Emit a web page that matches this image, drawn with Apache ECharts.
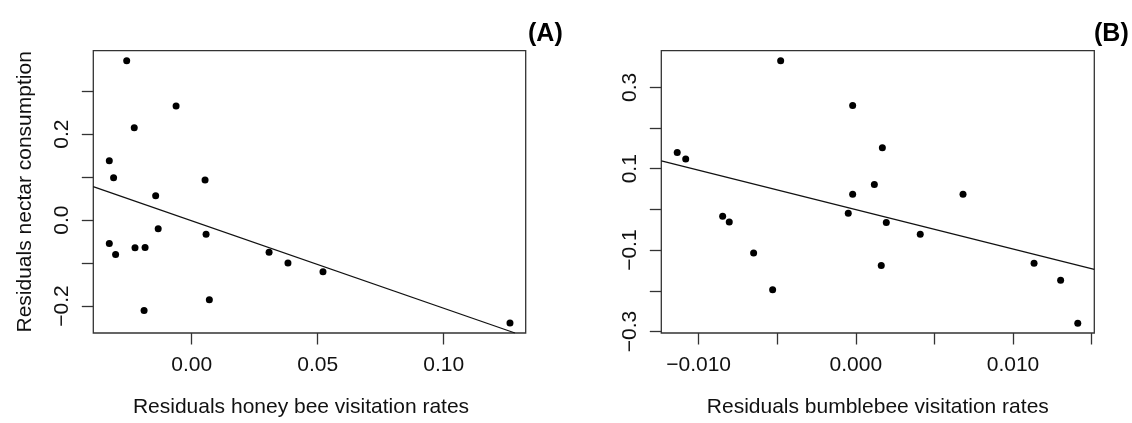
<!DOCTYPE html>
<html>
<head>
<meta charset="utf-8">
<script src="https://cdn.jsdelivr.net/npm/echarts@6/dist/echarts.min.js"></script>
<style>
html,body{margin:0;padding:0;background:#fff;}
#chart{width:1132px;height:423px;}
</style>
</head>
<body>
<div id="chart"></div>
<script>
// Panel A: honey bee
var honeyX = [-0.0258, -0.0062, -0.0228, -0.0327, -0.0310, 0.0053, -0.0143, -0.0133, 0.0057, -0.0327, -0.0302, -0.0225, -0.0185, 0.0070, -0.0189, 0.0307, 0.0382, 0.0521, 0.1263];
var nectarA = [0.3707, 0.2656, 0.2151, 0.1379, 0.0988, 0.0933, 0.0565, -0.0200, -0.0331, -0.0545, -0.0804, -0.0643, -0.0636, -0.1854, -0.2107, -0.0751, -0.0997, -0.1204, -0.2399];
var fitAx = [-0.0391, 0.1283];
var fitAy = [0.0781, -0.2629];
var xTicksA = [0.00, 0.05, 0.10];
var xLabelsA = [0.00, 0.05, 0.10];
var yTicksA = [-0.2, -0.1, 0.0, 0.1, 0.2, 0.3];
var yLabelsA = [-0.2, 0.0, 0.2];

// Panel B: bumblebee
var bumbleX = [-0.00478, -0.00020, -0.01136, -0.01082, -0.00020, -0.00847, -0.00048, 0.00169, 0.00118, 0.00682, -0.00805, -0.00650, -0.00529, 0.00194, 0.00410, 0.00162, 0.01134, 0.01303, 0.01412];
var nectarB = [0.3651, 0.2552, 0.1402, 0.1242, 0.0376, -0.0165, -0.0092, 0.1516, 0.0611, 0.0376, -0.0311, -0.1072, -0.1977, -0.0320, -0.0611, -0.1378, -0.1322, -0.1742, -0.2795];
var fitBx = [-0.01237, 0.01517];
var fitBy = [0.1194, -0.1475];
var xTicksB = [-0.010, -0.005, 0.000, 0.005, 0.010, 0.015];
var xLabelsB = [-0.010, 0.000, 0.010];
var yTicksB = [-0.3, -0.2, -0.1, 0.0, 0.1, 0.2, 0.3];
var yLabelsB = [-0.3, -0.1, 0.1, 0.3];

var FONT = '"Liberation Sans", Arial, Helvetica, sans-serif';
function zip(a, b) { return a.map(function (v, i) { return [v, b[i]]; }); }
function fmt(d) {
  return function (v) { return Number(v).toFixed(d).replace('-', '\u2212'); };
}
var tickStyle = { show: true, inside: false, length: 11.5, lineStyle: { color: '#333', width: 1.3 } };
function xAxisDef(grid, min, max, ticks, labels, dec, name, pad) {
  return {
    type: 'value', gridIndex: grid, min: min, max: max, position: 'bottom',
    splitLine: { show: false }, axisLine: { show: false, onZero: false },
    axisTick: Object.assign({ customValues: ticks }, tickStyle),
    axisLabel: { customValues: labels, formatter: fmt(dec), margin: 22, fontFamily: FONT, fontSize: 21, color: '#111' },
    name: name, nameLocation: 'middle', nameGap: 64,
    nameTextStyle: { fontFamily: FONT, fontSize: 21, color: '#111', padding: pad }
  };
}
function yAxisDef(grid, min, max, ticks, labels, name) {
  return {
    type: 'value', gridIndex: grid, min: min, max: max, position: 'left',
    splitLine: { show: false }, axisLine: { show: false, onZero: false },
    axisTick: Object.assign({ customValues: ticks }, tickStyle),
    axisLabel: { customValues: labels, formatter: fmt(1), margin: 21, rotate: 90, fontFamily: FONT, fontSize: 21, color: '#111' },
    name: name, nameLocation: 'middle', nameGap: 58, nameRotate: 90,
    nameTextStyle: { fontFamily: FONT, fontSize: 21, color: '#111' }
  };
}

var chart = echarts.init(document.getElementById('chart'), null, { renderer: 'canvas' });
chart.setOption({
  animation: false,
  backgroundColor: '#fff',
  grid: [
    { left: 93.3, top: 50.7, width: 432.4, height: 286, show: true, borderColor: '#333', borderWidth: 1.3, backgroundColor: 'transparent' },
    { left: 661.3, top: 50.7, width: 433, height: 286, show: true, borderColor: '#333', borderWidth: 1.3, backgroundColor: 'transparent' }
  ],
  xAxis: [
    xAxisDef(0, -0.03905, 0.13254, xTicksA, xLabelsA, 2, 'Residuals honey bee visitation rates', [0, 17, 0, 0]),
    xAxisDef(1, -0.012373, 0.015172, xTicksB, xLabelsB, 3, 'Residuals bumblebee visitation rates', [0, 0, 0, 0])
  ],
  yAxis: [
    yAxisDef(0, -0.2629, 0.3943, yTicksA, yLabelsA, 'Residuals nectar consumption'),
    yAxisDef(1, -0.3037, 0.3901, yTicksB, yLabelsB, '')
  ],
  graphic: [
    { type: 'text', left: 528, top: 22, style: { text: '(A)', fontFamily: FONT, fontWeight: 'bold', fontSize: 25, fill: '#000' } },
    { type: 'text', left: 1094, top: 22, style: { text: '(B)', fontFamily: FONT, fontWeight: 'bold', fontSize: 25, fill: '#000' } }
  ],
  series: [
    { type: 'scatter', xAxisIndex: 0, yAxisIndex: 0, data: zip(honeyX, nectarA), symbol: 'circle', symbolSize: 7, itemStyle: { color: '#000', opacity: 1 } },
    { type: 'line', xAxisIndex: 0, yAxisIndex: 0, data: zip(fitAx, fitAy), showSymbol: false, clip: true, lineStyle: { color: '#111', width: 1.3 } },
    { type: 'scatter', xAxisIndex: 1, yAxisIndex: 1, data: zip(bumbleX, nectarB), symbol: 'circle', symbolSize: 7, itemStyle: { color: '#000', opacity: 1 } },
    { type: 'line', xAxisIndex: 1, yAxisIndex: 1, data: zip(fitBx, fitBy), showSymbol: false, clip: true, lineStyle: { color: '#111', width: 1.3 } }
  ]
});
</script>
</body>
</html>
